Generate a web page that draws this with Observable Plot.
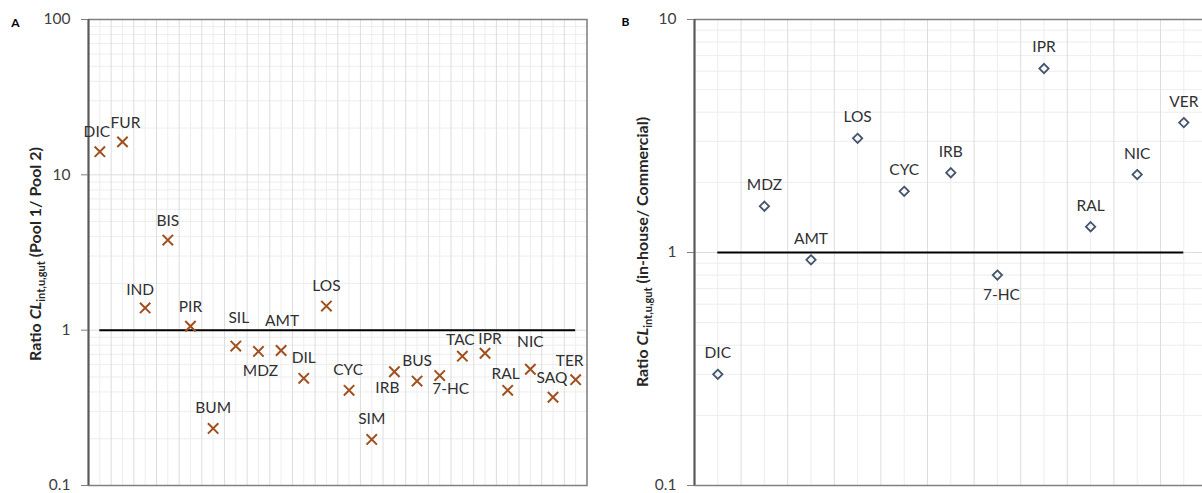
<!DOCTYPE html>
<html><head><meta charset="utf-8">
<script src="https://cdn.jsdelivr.net/npm/d3@7"></script>
<script src="https://cdn.jsdelivr.net/npm/@observablehq/plot@0.6"></script>
<style>
html,body{margin:0;padding:0;background:#fff;overflow:hidden;}
#wrap{position:relative;width:1202px;height:493px;overflow:hidden;font-family:Lato,sans-serif;}
.panel{position:absolute;top:0;}
</style></head><body><div id="wrap"></div>
<script>
// ---- data ----
const compoundsA = ["DIC","FUR","IND","BIS","PIR","BUM","SIL","MDZ","AMT","DIL","LOS","CYC","SIM","IRB","BUS","7-HC","TAC","IPR","RAL","NIC","SAQ","TER"];
const ratioA = [14.1,16.3,1.39,3.8,1.06,0.233,0.79,0.73,0.74,0.49,1.43,0.41,0.198,0.54,0.47,0.51,0.68,0.71,0.41,0.56,0.37,0.48];
const compoundsB = ["DIC","MDZ","AMT","LOS","CYC","IRB","7-HC","IPR","RAL","NIC","VER"];
const ratioB = [0.30,1.58,0.93,3.09,1.83,2.20,0.80,6.16,1.29,2.16,3.61];
const yTicksA = [0.1,1,10,100];
const yTicksB = [0.1,1,10];
const referenceRatio = 1;
const panelLetters = ["A","B"];
const titleA = {pre:"Ratio ", it:"CL", sub:"int,u,gut", post:" (Pool 1/ Pool 2)"};
const titleB = {pre:"Ratio ", it:"CL", sub:"int,u,gut", post:" (in-house/ Commercial)"};

// label nudges [dx, dy] (annotation placement)
const nudgeA = {"DIC":[-3,-20],"FUR":[3,-19],"IND":[-5,-18],"BIS":[0,-19],"PIR":[0,-19],"BUM":[0,-20],
  "SIL":[3,-28],"MDZ":[2,20],"AMT":[1,-29],"DIL":[0,-20],"LOS":[0,-20],"CYC":[-1,-20],"SIM":[0,-20],
  "IRB":[-7,16],"BUS":[0,-20],"7-HC":[11,13],"TAC":[-2,-16],"IPR":[5,-14],"RAL":[-2,-16],"NIC":[0,-27],
  "SAQ":[-1,-19],"TER":[-6,-19]};
const nudgeB = {"7-HC":[4,20]};

const dataA = compoundsA.map((c,i)=>({name:c, idx:i+1, ratio:ratioA[i]}));
const dataB = compoundsB.map((c,i)=>({name:c, idx:i+1, ratio:ratioB[i]}));

function gridMarks(n, decades){
  const xs = d3.range(0.5, n+0.5001, 0.5);
  const xMaj = xs.filter(v=>Math.abs(v%1-0.5)<1e-6);
  const xMin = xs.filter(v=>Math.abs(v%1)<1e-6);
  const yMin = [], yMaj = [];
  decades.forEach(d=>{ for(let k=2;k<=9;k++) yMin.push(+(k*d).toPrecision(3)); yMaj.push(d); });
  return [
    Plot.ruleX(xMin,{stroke:"#ededed",strokeWidth:1}),
    Plot.ruleY(yMin,{stroke:"#ededed",strokeWidth:1}),
    Plot.ruleX(xMaj,{stroke:"#dddddd",strokeWidth:1}),
    Plot.ruleY(yMaj,{stroke:"#dddddd",strokeWidth:1})
  ];
}

function labelMarks(data, nudge, defaultNudge){
  return data.map(d=>{
    const [dx,dy] = nudge[d.name] || defaultNudge;
    return Plot.text([d],{x:"idx",y:"ratio",text:"name",dx,dy,fill:"#303030",fontSize:15.5,fontFamily:"Lato, sans-serif"});
  });
}

function addTitle(svg, cx, cy, t){
  const g = d3.select(svg).append("text")
    .attr("transform",`translate(${cx},${cy}) rotate(-90)`)
    .attr("text-anchor","middle").attr("font-weight","bold").attr("font-size",16)
    .attr("fill","#262626").attr("font-family","Lato, sans-serif");
  g.append("tspan").text(t.pre);
  g.append("tspan").attr("font-style","italic").text(t.it);
  g.append("tspan").attr("font-size",11).attr("dy",4).text(t.sub);
  g.append("tspan").attr("dy",-4).text(t.post);
}
function addLetter(svg, x, y, letter){
  d3.select(svg).append("text").attr("x",x).attr("y",y).attr("text-anchor","middle")
    .attr("font-weight","bold").attr("font-size",12).attr("fill","#000")
    .attr("font-family","Lato, sans-serif").text(letter);
}

const nA = compoundsA.length, nB = compoundsB.length;

const plotA = Plot.plot({
  width:600, height:493, marginLeft:88, marginRight:13.5, marginTop:19, marginBottom:8,
  style:{fontFamily:"Lato, sans-serif", fontSize:"15.5px", background:"transparent"},
  x:{domain:[0.5, nA+0.5], axis:null},
  y:{type:"log", domain:[yTicksA[0], yTicksA[yTicksA.length-1]], axis:null},
  marks:[
    ...gridMarks(nA,[0.1,1,10]),
    Plot.frame({stroke:"#808080",strokeWidth:1.5}),
    Plot.ruleX([0.5],{stroke:"#595959",strokeWidth:2}),
    Plot.axisY({ticks:yTicksA, tickSize:7, tickPadding:11, tickFormat:d=>String(d), stroke:"#7f7f7f", fill:"#404040", fontSize:15.5, label:null}),
    Plot.ruleY([referenceRatio],{x1:1, x2:nA, stroke:"#000", strokeWidth:2}),
    Plot.dot(dataA,{x:"idx",y:"ratio",symbol:"times",r:4.8,stroke:"#a0501f",strokeWidth:2}),
    ...labelMarks(dataA, nudgeA, [0,-20])
  ]
});

const plotB = Plot.plot({
  width:617, height:493, marginLeft:94, marginRight:10.4, marginTop:19, marginBottom:8,
  style:{fontFamily:"Lato, sans-serif", fontSize:"15.5px", background:"transparent"},
  x:{domain:[0.5, nB+0.5], axis:null},
  y:{type:"log", domain:[yTicksB[0], yTicksB[yTicksB.length-1]], axis:null},
  marks:[
    ...gridMarks(nB,[0.1,1]),
    Plot.frame({stroke:"#808080",strokeWidth:1.5}),
    Plot.ruleX([0.5],{stroke:"#595959",strokeWidth:2}),
    Plot.axisY({ticks:yTicksB, tickSize:7, tickPadding:11, tickFormat:d=>String(d), stroke:"#7f7f7f", fill:"#404040", fontSize:15.5, label:null}),
    Plot.ruleY([referenceRatio],{x1:1, x2:nB, stroke:"#000", strokeWidth:2}),
    Plot.dot(dataB,{x:"idx",y:"ratio",symbol:"diamond2",r:4.2,stroke:"#44546a",strokeWidth:1.8}),
    ...labelMarks(dataB, nudgeB, [0,-21])
  ]
});

addTitle(plotA, 41, 254, titleA);
addTitle(plotB, 48, 252, titleB);
addLetter(plotA, 15.5, 26.5, panelLetters[0]);
addLetter(plotB, 25.5, 26, panelLetters[1]);

const wrap = document.getElementById("wrap");
plotA.classList.add("panel"); plotA.style.left = "0px";
plotB.classList.add("panel"); plotB.style.left = "600px";
wrap.appendChild(plotA);
wrap.appendChild(plotB);
</script>
</body></html>
